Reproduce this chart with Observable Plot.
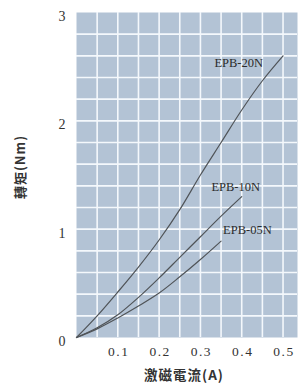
<!DOCTYPE html>
<html>
<head>
<meta charset="utf-8">
<script src="https://cdn.jsdelivr.net/npm/d3@7"></script>
<script src="https://cdn.jsdelivr.net/npm/@observablehq/plot@0.6"></script>
<style>
  html, body { margin: 0; padding: 0; background: #fff; }
  #chart { position: relative; width: 299px; height: 389px; }
</style>
</head>
<body>
<div id="chart"></div>
<script>
// ---- data ----
const current = [0, 0.05, 0.1, 0.15, 0.2, 0.25, 0.3, 0.35, 0.4, 0.45, 0.5];
const torque20N = [0, 0.2, 0.42, 0.65, 0.9, 1.18, 1.5, 1.8, 2.1, 2.37, 2.6];
const torque10N = [0, 0.09, 0.21, 0.37, 0.55, 0.74, 0.93, 1.12, 1.3];
const torque05N = [0, 0.08, 0.18, 0.29, 0.41, 0.56, 0.72, 0.89];
const seriesNames = ["EPB-20N", "EPB-10N", "EPB-05N"];
const xTicks = [0.1, 0.2, 0.3, 0.4, 0.5];
const yTicks = [0, 1, 2, 3];
const xGrid = [0.05, 0.1, 0.15, 0.2, 0.25, 0.3, 0.35, 0.4, 0.45, 0.5];
const yGrid = [0.2, 0.4, 0.6, 0.8, 1, 1.2, 1.4, 1.6, 1.8, 2, 2.2, 2.4, 2.6, 2.8];
const xTitle = "激磁電流(A)";
const yTitle = "轉矩(Nm)";

const allSeries = [torque20N, torque10N, torque05N];
const rows = [];
allSeries.forEach((vals, i) => {
  vals.forEach((v, j) => rows.push({series: seriesNames[i], x: current[j], y: v}));
});
const ends = allSeries.map((vals, i) => ({series: seriesNames[i], x: current[vals.length - 1], y: vals[vals.length - 1]}));

const serif = "'Liberation Serif', 'DejaVu Serif', serif";
const cjk = "'Noto Sans CJK TC', 'Noto Sans CJK SC', sans-serif";

const chart = Plot.plot({
  width: 299,
  height: 389,
  marginLeft: 76,
  marginRight: 2,
  marginTop: 12,
  marginBottom: 52,
  style: {background: "#fff", fontFamily: serif, overflow: "visible"},
  x: {domain: [0, 0.535], axis: null},
  y: {domain: [0, 3], axis: null},
  marks: [
    Plot.frame({fill: "#b3c3d5", stroke: null}),
    Plot.ruleX(xGrid, {stroke: "#f4f8fc", strokeWidth: 1.6}),
    Plot.ruleY(yGrid, {stroke: "#f4f8fc", strokeWidth: 1.6}),
    Plot.line(rows, {x: "x", y: "y", z: "series", stroke: "#505458", strokeWidth: 1.2, curve: "catmull-rom"}),
    Plot.text([ends[0]], {x: "x", y: "y", text: "series", textAnchor: "end", dx: -20, dy: 7, fontSize: 12.5, fill: "#2b2b2b", fontFamily: serif}),
    Plot.text([ends[1]], {x: "x", y: "y", text: "series", textAnchor: "middle", dx: -6, dy: -10, fontSize: 12.5, fill: "#2b2b2b", fontFamily: serif}),
    Plot.text([ends[2]], {x: "x", y: "y", text: "series", textAnchor: "start", dx: 2, dy: -11, fontSize: 12.5, fill: "#2b2b2b", fontFamily: serif}),
    Plot.axisX(xTicks, {tickSize: 0, tickPadding: 9, fontSize: 13.5, fill: "#333", tickFormat: d => d.toFixed(1), fontFamily: serif, label: null, dx: 1}),
    Plot.axisY(yTicks, {tickSize: 0, tickPadding: 11, fontSize: 14, fill: "#333", fontFamily: serif, label: null, dy: 4, tickFormat: d => String(d)}),
    Plot.text([xTitle], {frameAnchor: "bottom", dy: 42, dx: -3, fontSize: 13.5, fontWeight: "bold", fill: "#333", fontFamily: cjk}),
    Plot.text([yTitle], {frameAnchor: "left", textAnchor: "middle", dx: -56, dy: -8, rotate: -90, fontSize: 13, fontWeight: "bold", fill: "#333", fontFamily: cjk})
  ]
});
document.getElementById("chart").appendChild(chart);
d3.select(chart).selectAll('g[aria-label="x-axis tick label"] text').attr("letter-spacing", "1.5px");
d3.select(chart).selectAll('g[aria-label="text"]').filter(function() { return this.textContent === yTitle || this.textContent === xTitle; }).attr("letter-spacing", "1px");
</script>
</body>
</html>
